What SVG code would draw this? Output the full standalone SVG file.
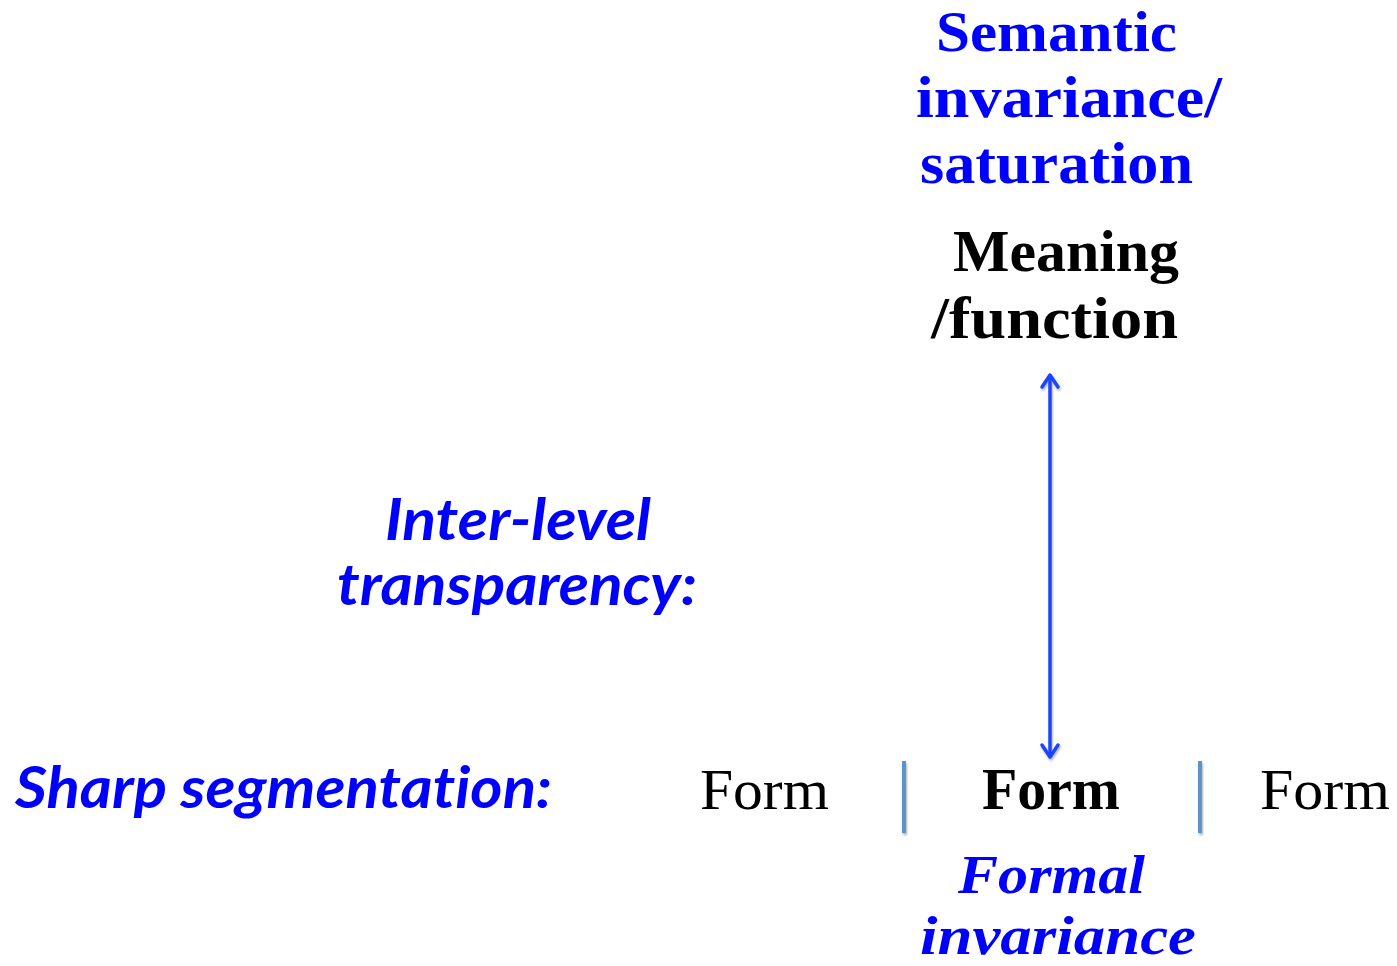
<svg xmlns="http://www.w3.org/2000/svg" width="1397" height="966" viewBox="0 0 1397 966">
<defs>
<style>
text{font-variant-ligatures:none}
.serifB{font-family:"Liberation Serif","DejaVu Serif",serif;font-weight:bold;font-size:59px}
.top{font-size:56px}
.serif{font-family:"Liberation Serif","DejaVu Serif",serif;font-size:58px}
.serifBI{font-family:"Liberation Serif","DejaVu Serif",serif;font-weight:bold;font-style:italic;font-size:54px}
.sansBI{font-family:Lato,"Liberation Sans",sans-serif;font-weight:bold;font-style:italic;font-size:57px}
.blue{fill:#0000ff}
.black{fill:#000000}
.sep{stroke:#5b93c8;stroke-width:4}
.arr{stroke:#1a44ff;stroke-width:3.5;fill:none;stroke-linecap:round;stroke-linejoin:round}
</style>
<filter id="sh" x="-50%" y="-10%" width="200%" height="120%">
<feDropShadow dx="1" dy="2" stdDeviation="1.2" flood-color="#000" flood-opacity="0.3"/>
</filter>
</defs>
<rect width="1397" height="966" fill="#ffffff"/>
<g id="semantic-label">
<text class="serifB top blue" x="936" y="51" textLength="241" lengthAdjust="spacingAndGlyphs">Semantic</text>
<text class="serifB blue" x="916" y="117" textLength="306" lengthAdjust="spacingAndGlyphs">invariance/</text>
<text class="serifB blue" x="920" y="183" textLength="273" lengthAdjust="spacingAndGlyphs">saturation</text>
</g>
<g id="meaning">
<text class="serifB black" x="953" y="271" textLength="226" lengthAdjust="spacingAndGlyphs">Meaning</text>
<text class="serifB black" x="931" y="338" textLength="247" lengthAdjust="spacingAndGlyphs">/function</text>
</g>
<g id="inter-level">
<text class="sansBI blue" x="385" y="540" textLength="266" lengthAdjust="spacingAndGlyphs">Inter-level</text>
<text class="sansBI blue" x="337" y="605" textLength="360" lengthAdjust="spacingAndGlyphs">transparency:</text>
</g>
<g id="sharp-segmentation">
<text class="sansBI blue" x="15" y="808" textLength="537" lengthAdjust="spacingAndGlyphs">Sharp segmentation:</text>
</g>
<g id="form-left">
<text class="serif black" x="700" y="809" textLength="129" lengthAdjust="spacingAndGlyphs">Form</text>
</g>
<g id="form-center">
<text class="serifB black" x="982" y="809" textLength="138" lengthAdjust="spacingAndGlyphs">Form</text>
</g>
<g id="form-right">
<text class="serif black" x="1260" y="809" textLength="130" lengthAdjust="spacingAndGlyphs">Form</text>
</g>
<g id="formal-invariance">
<text class="serifBI blue" x="958" y="893" textLength="187" lengthAdjust="spacingAndGlyphs">Formal</text>
<text class="serifBI blue" x="920" y="954" textLength="276" lengthAdjust="spacingAndGlyphs">invariance</text>
</g>
<g id="separators" filter="url(#sh)">
<line class="sep" x1="904" y1="761" x2="904" y2="833"/>
<line class="sep" x1="1200" y1="761" x2="1200" y2="833"/>
</g>
<g id="connectors" filter="url(#sh)">
<line class="arr" x1="1050" y1="376" x2="1050" y2="756"/>
<polyline class="arr" points="1042,387 1050,375 1058,387"/>
<polyline class="arr" points="1042,745 1050,757 1058,745"/>
</g>
</svg>
